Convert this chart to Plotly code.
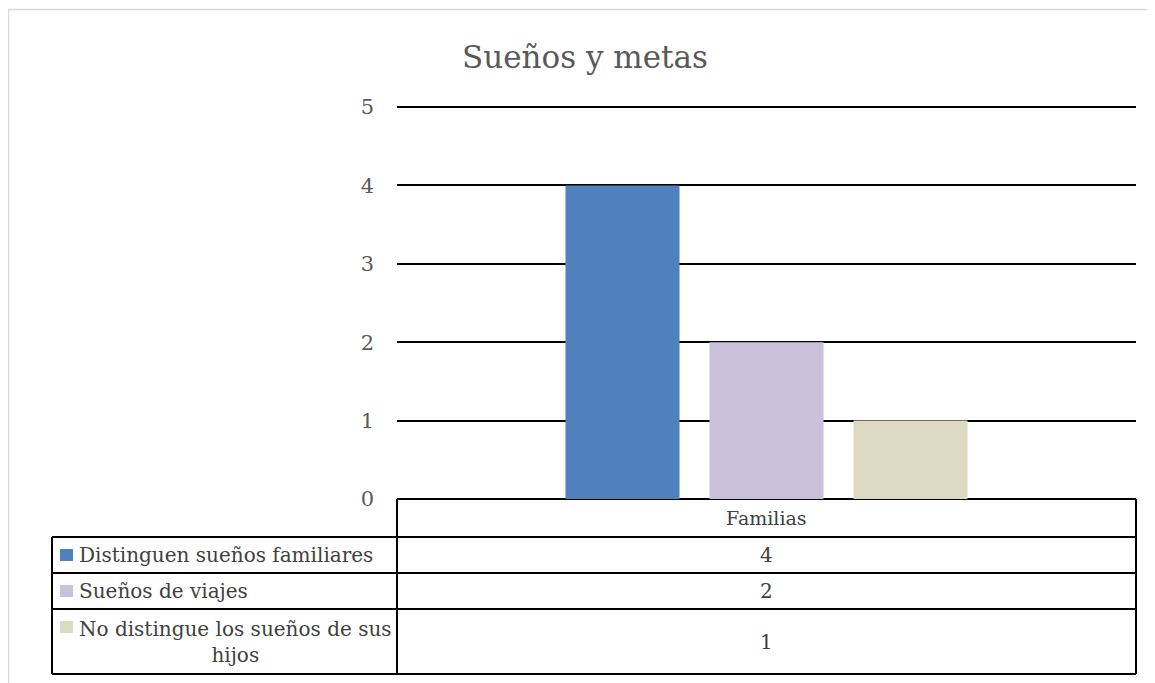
import plotly.graph_objects as go

title = "Sueños y metas"
categories = ["Familias"]
series_names = ["Distinguen sueños familiares", "Sueños de viajes", "No distingue los sueños de sus<br>hijos"]
series_values = [4, 2, 1]
series_colors = ["#4F81BD", "#CBC0DB", "#DDD9C3"]
y_ticks = [0, 1, 2, 3, 4, 5]

OFF = 8  # page body margin
W, H = 1155 - OFF, 683 - OFF
L, R, T, B = 397, 1136, 107, 499  # plot area in page pixels

def px(x):
    return (x - L) / (R - L)

def py(y):
    return (B - y) / (B - T)

fig = go.Figure()
for name, val, col in zip(series_names, series_values, series_colors):
    fig.add_trace(go.Bar(x=categories, y=[val], name=name.replace("<br>", " "),
                         marker=dict(color=col, line=dict(width=0)), showlegend=False))

serif = "DejaVu Serif"
txt_col = "#404040"
shapes = []
annotations = []
# outer faint border
shapes.append(dict(type="rect", xref="paper", yref="paper", x0=px(8.5), x1=px(1200), y0=py(9.5), y1=py(720),
                   line=dict(color="#D9D9D9", width=1.5), fillcolor="rgba(0,0,0,0)", layer="below"))
# top gridline at the range maximum (paper y=1 is the top of the [0, max tick] range; not clipped)
shapes.append(dict(type="line", xref="paper", yref="paper", x0=0, x1=1, y0=1, y1=1,
                   line=dict(color="black", width=2), layer="below"))

row_edges = [537, 573, 609, 674]
line_style = dict(color="black", width=2)
shapes.append(dict(type="line", xref="paper", yref="paper", x0=0, x1=0, y0=0, y1=py(row_edges[-1]), line=line_style))
shapes.append(dict(type="line", xref="paper", yref="paper", x0=1, x1=1, y0=0, y1=py(row_edges[-1]), line=line_style))
shapes.append(dict(type="line", xref="paper", yref="paper", x0=px(52), x1=px(52), y0=py(row_edges[0]), y1=py(row_edges[-1]), line=line_style))
for ye in row_edges:
    shapes.append(dict(type="line", xref="paper", yref="paper", x0=px(52), x1=1, y0=py(ye), y1=py(ye), line=line_style))

annotations.append(dict(xref="paper", yref="paper", x=0.5, y=py((B + row_edges[0]) / 2), text=categories[0],
                        showarrow=False, font=dict(family=serif, size=19, color=txt_col),
                        xanchor="center", yanchor="middle"))

for i, (name, val, col) in enumerate(zip(series_names, series_values, series_colors)):
    top = row_edges[i]
    bot = row_edges[i + 1]
    cy = (top + bot) / 2
    ky = top + 18
    shapes.append(dict(type="rect", xref="paper", yref="paper", x0=px(60), x1=px(73), y0=py(ky - 6), y1=py(ky + 6),
                       fillcolor=col, line=dict(width=0)))
    annotations.append(dict(xref="paper", yref="paper", x=px(77), y=py(cy), text=name, showarrow=False,
                            font=dict(family=serif, size=20, color=txt_col), xanchor="left", yanchor="middle",
                            align="center"))
    annotations.append(dict(xref="paper", yref="paper", x=0.5, y=py(cy), text=str(val), showarrow=False,
                            font=dict(family=serif, size=20, color=txt_col), xanchor="center", yanchor="middle"))

fig.update_layout(
    width=W, height=H,
    margin=dict(l=L - OFF, r=W - (R - OFF), t=T - OFF, b=H - (B - OFF)),
    paper_bgcolor="white", plot_bgcolor="white",
    title=dict(text=title, x=(585 - OFF) / W, xanchor="center", y=1 - (57 - OFF) / H, yanchor="middle",
               font=dict(family=serif, size=31, color="#595959")),
    barmode="group", bargap=0.4154, bargroupgap=0.208,
    shapes=shapes, annotations=annotations,
    xaxis=dict(showticklabels=False, showgrid=False, zeroline=False, showline=False, fixedrange=True),
    yaxis=dict(range=[0, max(y_ticks)], tickvals=y_ticks, showgrid=True, gridcolor="black", gridwidth=2,
               zeroline=True, zerolinecolor="black", zerolinewidth=2, ticks="", ticklabelstandoff=22,
               tickfont=dict(family=serif, size=21, color="#595959"), showline=False),
)

fig.write_html("out.html")
